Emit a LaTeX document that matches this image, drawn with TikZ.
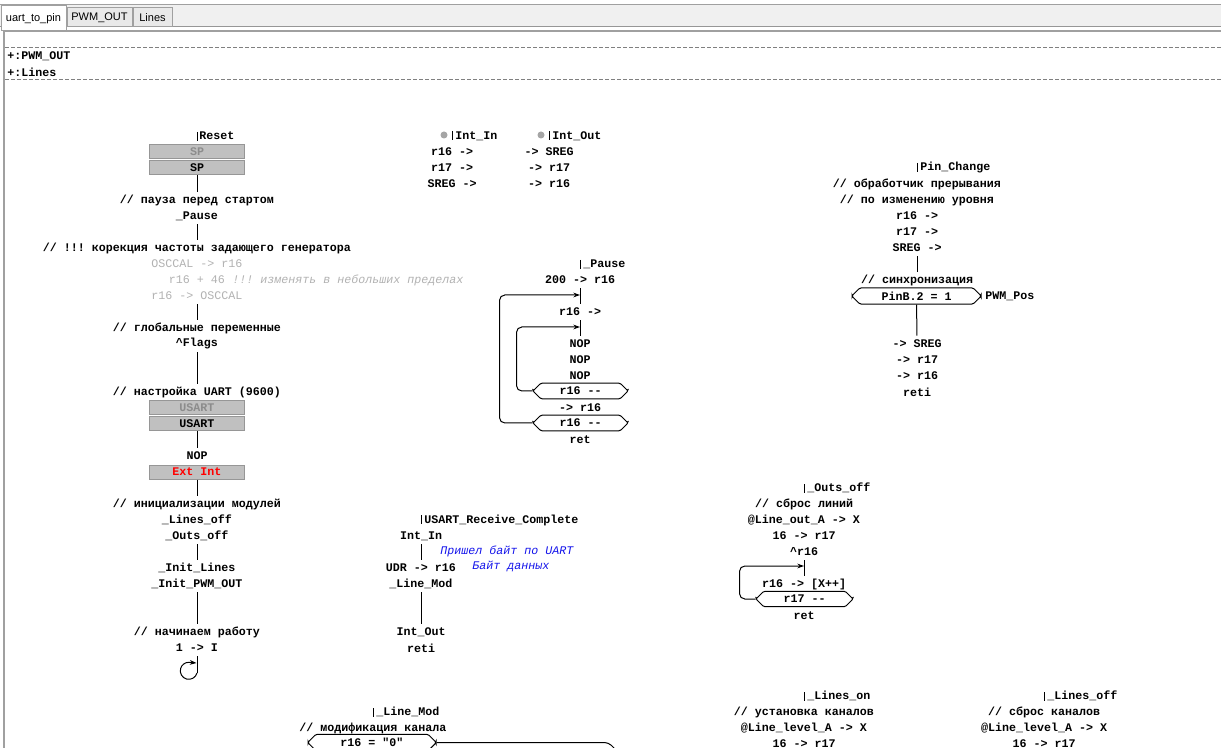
\documentclass[tikz,border=0pt]{standalone}
\usepackage{fontspec}
\setmonofont{Liberation Mono}
\newfontfamily\tabfont{Liberation Sans}
\usetikzlibrary{arrows.meta,shapes.misc}
\definecolor{dimtxt}{RGB}{178,178,178}
\definecolor{offtxt}{RGB}{140,140,140}
\definecolor{blkfill}{RGB}{192,192,192}
\definecolor{blkedge}{RGB}{150,150,150}
\definecolor{notetxt}{RGB}{20,20,235}
\definecolor{barfill}{RGB}{240,240,240}
\definecolor{barline}{RGB}{160,160,160}
\definecolor{tabfill}{RGB}{233,233,233}
\definecolor{dotfill}{RGB}{165,165,165}
\definecolor{dashgray}{RGB}{128,128,128}
\newcommand\opfont{\fontsize{8.75pt}{10pt}\selectfont\ttfamily\bfseries}
\newcommand\dimfont{\fontsize{8.75pt}{10pt}\selectfont\ttfamily}
\newcommand\notefont{\fontsize{8.75pt}{10pt}\selectfont\ttfamily\itshape}
\newcommand\tabtext{\fontsize{8.25pt}{10pt}\selectfont\tabfont}
\tikzset{
  op/.style   = {inner sep=0pt, minimum height=12pt, font=\opfont},
  dim/.style  = {op, font=\dimfont, text=dimtxt},
  rem/.style  = {op, font=\notefont, text=notetxt, anchor=west},
  lbl/.style  = {op, anchor=west},
  blk/.style  = {op, rectangle, fill=blkfill, draw=blkedge, line width=0.75pt,
                 minimum width=71.25pt, minimum height=10.5pt},
  off/.style  = {blk, text=offtxt},
  cyc/.style  = {op, chamfered rectangle, chamfered rectangle xsep=3pt,
                 draw, line width=0.75pt, rounded corners=1pt,
                 minimum width=71.25pt, minimum height=11.25pt},
  link/.style = {line width=0.75pt},
  back/.style = {link, rounded corners=4pt, -{Stealth[length=5pt,width=3.5pt]}},
  tab/.style  = {draw=barline, line width=0.75pt, inner sep=0pt, font=\tabtext},
}

\begin{document}
\begin{tikzpicture}[x=0.75pt, y=-0.75pt]
  \useasboundingbox (0,0) rectangle (1221,748);
  \clip (0,0) rectangle (1221,748);
  \fill[white] (0,0) rectangle (1221,748);

  % window frame and tabs
  \fill[barfill] (0,5) rectangle (1221,26);
  \draw[barline, link] (0,4.5) -- (1221,4.5);
  \draw[blkedge, link] (0,26.5) -- (1221,26.5);
  \node[tab, fill=white,   minimum width=48.75pt, minimum height=18.75pt] (tabA) at (33.5,18.5) {uart\_to\_pin};
  \node[tab, fill=tabfill, minimum width=48.75pt, minimum height=14.25pt] (tabB) at (99.5,17.5) {PWM\_OUT};
  \node[tab, fill=tabfill, minimum width=29.25pt, minimum height=14.25pt] (tabC) at (152.5,17.5) {Lines};
  \fill[barline] (3,30) rectangle (1221,32);
  \fill[barline] (3,30) rectangle (5,748);
  \draw[dashgray, link, dash pattern=on 3pt off 1.5pt] (5,48) -- (1221,48);
  \draw[dashgray, link, dash pattern=on 3pt off 1.5pt] (5,80) -- (1221,80);
  \node[lbl] (incA) at (7,56) {+:PWM\_OUT};
  \node[lbl] (incB) at (7,72) {+:Lines};

  % Reset
  \coordinate (tReset) at (197,132);
  \draw[link] (tReset) -- ++(0,9);
  \node[lbl] (reset)  at (199,136) {Reset};
  \node[off] (sp1)    at (197,152) {SP};
  \node[blk] (sp2)    at (197,168) {SP};
  \node[op]  (rc1)    at (197,200) {// пауза перед стартом};
  \node[op]  (rpause) at (197,216) {\_Pause};
  \node[op]  (rc2)    at (197,248) {// !!! корекция частоты задающего генератора};
  \node[dim] (osc1)   at (197,264) {OSCCAL -> r16};
  \node[dim] (osc2)   at (197,280) {r16 + 46};
  \node[rem, text=dimtxt] (osc2n) at (232,280) {!!! изменять в небольших пределах};
  \node[dim] (osc3)   at (197,296) {r16 -> OSCCAL};
  \node[op]  (rc3)    at (197,328) {// глобальные переменные};
  \node[op]  (flags)  at (197,344) {\textasciicircum Flags};
  \node[op]  (rc4)    at (197,392) {// настройка UART (9600)};
  \node[off] (us1)    at (197,408) {USART};
  \node[blk] (us2)    at (197,424) {USART};
  \node[op]  (nop)    at (197,456) {NOP};
  \node[blk, text=red] (extint) at (197,472) {Ext Int};
  \node[op]  (rc5)    at (197,504) {// инициализации модулей};
  \node[op]  (loff)   at (197,520) {\_Lines\_off};
  \node[op]  (ooff)   at (197,536) {\_Outs\_off};
  \node[op]  (ilin)   at (197,568) {\_Init\_Lines};
  \node[op]  (ipwm)   at (197,584) {\_Init\_PWM\_OUT};
  \node[op]  (rc6)    at (197,632) {// начинаем работу};
  \node[op]  (sei)    at (197,648) {1 -> I};
  \coordinate (halt) at (197,673);
  \coordinate (hin)  at (196.5,663);

  \draw[link] (sp2)  -- (rc1);
  \draw[link] (rpause) -- (rc2);
  \draw[link] (osc3) -- (rc3);
  \draw[link] (flags) -- (rc4);
  \draw[link] (us2)  -- (nop);
  \draw[link] (extint) -- (rc5);
  \draw[link] (ooff) -- (ilin);
  \draw[link] (ipwm) -- (rc6);
  \draw[link] (sei)  -- (halt);
  \draw[link, -{Stealth[length=5pt,width=3.5pt]}] (halt) arc[start angle=15, end angle=270, radius=8.5] -- (hin);

  % Int_In / Int_Out
  \fill[dotfill] (444,135) circle (3.5);
  \coordinate (tIn) at (452,131);
  \draw[link] (tIn) -- ++(0,9);
  \node[lbl] (intin) at (455,136) {Int\_In};
  \node[op]  (in1)   at (452,152) {r16 ->};
  \node[op]  (in2)   at (452,168) {r17 ->};
  \node[op]  (in3)   at (452,184) {SREG ->};
  \fill[dotfill] (541,135) circle (3.5);
  \coordinate (tOut) at (549,131);
  \draw[link] (tOut) -- ++(0,9);
  \node[lbl] (intout) at (552,136) {Int\_Out};
  \node[op]  (out1)  at (549,152) {-> SREG};
  \node[op]  (out2)  at (549,168) {-> r17};
  \node[op]  (out3)  at (549,184) {-> r16};

  % _Pause
  \coordinate (tPause) at (580,260);
  \draw[link] (tPause) -- ++(0,9);
  \node[lbl] (pause) at (583,264) {\_Pause};
  \node[op]  (p0)    at (580,280) {200 -> r16};
  \node[op]  (p1)    at (580,312) {r16 ->};
  \node[op]  (p2)    at (580,344) {NOP};
  \node[op]  (p3)    at (580,360) {NOP};
  \node[op]  (p4)    at (580,376) {NOP};
  \node[cyc] (p5)    at (580.5,391) {r16 -{}-};
  \node[op]  (p6)    at (580,408) {-> r16};
  \node[cyc] (p7)    at (580.5,423) {r16 -{}-};
  \node[op]  (p8)    at (580,440) {ret};
  \coordinate (pin1) at (580,295);
  \coordinate (pin2) at (580,327);
  \draw[link] (p0) -- (p1);
  \draw[link] (p1) -- (p2);
  \draw[back] (p7.west) -- ++(-33,0) |- (pin1);
  \draw[back] (p5.west) -- ++(-16,0) |- (pin2);

  % Pin_Change
  \coordinate (tPin) at (917,163);
  \draw[link] (tPin) -- ++(0,9);
  \node[lbl] (pinchg) at (920,168) {Pin\_Change};
  \node[op]  (pc1)  at (917,184) {// обработчик прерывания};
  \node[op]  (pc2)  at (917,200) {// по изменению уровня};
  \node[op]  (pc3)  at (917,216) {r16 ->};
  \node[op]  (pc4)  at (917,232) {r17 ->};
  \node[op]  (pc5)  at (917,248) {SREG ->};
  \node[op]  (pc6)  at (917,280) {// синхронизация};
  \node[cyc, minimum width=96.75pt] (pc7) at (916.5,296) {PinB.2 = 1};
  \node[lbl] (pwmpos) at (985,296) {PWM\_Pos};
  \node[op]  (pc8)  at (917,344) {-> SREG};
  \node[op]  (pc9)  at (917,360) {-> r17};
  \node[op]  (pc10) at (917,376) {-> r16};
  \node[op]  (pc11) at (917,392) {reti};
  \draw[link] (pc5) -- (pc6);
  \draw[link] (pc7) -- (pc8);

  % USART_Receive_Complete
  \coordinate (tRx) at (421,515);
  \draw[link] (tRx) -- ++(0,9);
  \node[lbl] (rxc) at (424,520) {USART\_Receive\_Complete};
  \node[op]  (u1)  at (421,536) {Int\_In};
  \node[rem] (u1n) at (440,551) {Пришел байт по UART};
  \node[op]  (u2)  at (421,568) {UDR -> r16};
  \node[rem] (u2n) at (472,567) {Байт данных};
  \node[op]  (u3)  at (421,584) {\_Line\_Mod};
  \node[op]  (u4)  at (421,632) {Int\_Out};
  \node[op]  (u5)  at (421,648) {reti};
  \draw[link] (u1) -- (u2);
  \draw[link] (u3) -- (u4);

  % _Outs_off
  \coordinate (tOuts) at (804,484);
  \draw[link] (tOuts) -- ++(0,9);
  \node[lbl] (outsoff) at (807,488) {\_Outs\_off};
  \node[op]  (o1) at (804,504) {// сброс линий};
  \node[op]  (o2) at (804,520) {@Line\_out\_A -> X};
  \node[op]  (o3) at (804,536) {16 -> r17};
  \node[op]  (o4) at (804,552) {\textasciicircum r16};
  \node[op]  (o5) at (804,584) {r16 -> [X++]};
  \node[cyc, minimum width=72.75pt] (o6) at (804.5,599) {r17 -{}-};
  \node[op]  (o7) at (804,616) {ret};
  \coordinate (oin) at (804,566);
  \draw[link] (o4) -- (o5);
  \draw[back] (o6.west) -- ++(-16,0) |- (oin);

  % _Line_Mod
  \coordinate (tMod) at (373,708);
  \draw[link] (tMod) -- ++(0,9);
  \node[lbl] (linemod) at (376,712) {\_Line\_Mod};
  \node[op]  (lm1) at (373,728) {// модификация канала};
  \node[cyc, minimum width=96pt] (lm2) at (372,742.5) {r16 = "0"};
  \draw[link, rounded corners=3pt] (lm2.east) -- ++(172,0) -- ++(6,6);

  % _Lines_on
  \coordinate (tOn) at (804,692);
  \draw[link] (tOn) -- ++(0,9);
  \node[lbl] (lineson) at (807,696) {\_Lines\_on};
  \node[op]  (lo1) at (804,712) {// установка каналов};
  \node[op]  (lo2) at (804,728) {@Line\_level\_A -> X};
  \node[op]  (lo3) at (804,744) {16 -> r17};

  % _Lines_off
  \coordinate (tOff) at (1044,692);
  \draw[link] (tOff) -- ++(0,9);
  \node[lbl] (linesoff) at (1047,696) {\_Lines\_off};
  \node[op]  (lf1) at (1044,712) {// сброс каналов};
  \node[op]  (lf2) at (1044,728) {@Line\_level\_A -> X};
  \node[op]  (lf3) at (1044,744) {16 -> r17};
\end{tikzpicture}
\end{document}
